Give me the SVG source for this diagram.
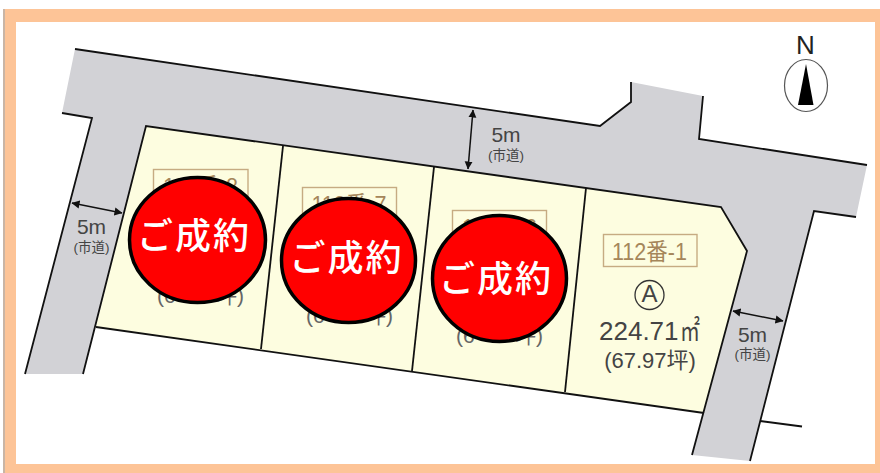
<svg xmlns="http://www.w3.org/2000/svg" width="880" height="473" viewBox="0 0 880 473">
<style>
.edge{fill:none;stroke:#111;stroke-width:1.8;stroke-linejoin:miter}
.dim{fill:none;stroke:#111;stroke-width:1.5;marker-start:url(#head);marker-end:url(#head)}
.box{fill:none;stroke:#c6ab82;stroke-width:1.4}
.lab{font-family:"Liberation Sans","Noto Sans CJK JP",sans-serif;fill:#a5865a;font-size:23.5px}
.dark{font-family:"Liberation Sans","Noto Sans CJK JP",sans-serif;fill:#444}
.frag{font-family:"Liberation Sans","Noto Sans CJK JP",sans-serif;fill:#666;font-size:21px}
.m{font-size:21px;text-anchor:middle}
.sub{font-size:13.500px;text-anchor:middle}
.sold{fill:#f00;stroke:#000;stroke-width:3.5}
.soldt{font-family:"Noto Sans CJK JP",sans-serif;font-weight:500;fill:#fff;font-size:36px;letter-spacing:2px;text-anchor:middle}
</style>
<defs>
<marker id="head" viewBox="0 0 8 8" refX="7.5" refY="4" markerWidth="8" markerHeight="9" markerUnits="userSpaceOnUse" orient="auto-start-reverse"><path d="M0 0L8 4L0 8z" fill="#111"/></marker>
</defs>
<rect width="880" height="473" fill="#fff"/>
<g id="frame">
<rect x="3" y="9" width="877" height="464" fill="#fdc497"/>
<rect x="3" y="9" width="2" height="464" fill="#c9b5a5"/>
<rect x="16" y="22" width="859" height="442" fill="#fff"/>
</g>
<g id="road">
<polygon fill="#d2d2d6" points="75,49 600,126 631,102 631,82 703,96 699,139 867,165 856,217 814,211 750,461 692,455 747,251 721,207 146,126 83,374 25,374 92,118 62,113"/>
<polyline class="edge" points="75,49 600,126 631,102 631,82"/>
<polyline class="edge" points="703,96 699,139 867,165"/>
<polyline class="edge" points="856,217 814,211 750,461"/>
<polyline class="edge" points="62,113 92,118 25,374"/>
<text class="dark m" x="506" y="142">5m</text>
<text class="dark sub" x="506" y="160">(市道)</text>
<text class="dark m" x="91.500" y="234">5m</text>
<text class="dark sub" x="91.500" y="252">(市道)</text>
<text class="dark m" x="752.500" y="342">5m</text>
<text class="dark sub" x="752.500" y="359">(市道)</text>
</g>
<g id="lots">
<polygon fill="#fdfde0" points="146,126 721,207 747,251 704,413 96,327"/>
<polyline class="edge" points="83,374 146,126 721,207 747,251 692,455"/>
<line class="edge" x1="96" y1="327" x2="704" y2="413"/>
<line class="edge" x1="760" y1="421" x2="802" y2="426.500"/>
<line class="edge" x1="283" y1="146" x2="261" y2="349"/>
<line class="edge" x1="434" y1="167" x2="412" y2="371"/>
<line class="edge" x1="586" y1="188" x2="565" y2="392"/>
</g>
<g id="connectors">
<line class="dim" x1="72" y1="203" x2="122" y2="213"/>
<line class="dim" x1="473" y1="110" x2="468" y2="169"/>
<line class="dim" x1="733" y1="311" x2="783" y2="321"/>
</g>
<g id="lot-8">
<rect class="box" x="153.500" y="169.500" width="94.500" height="32"/>
<text class="lab" x="163" y="195" textLength="75" lengthAdjust="spacingAndGlyphs">112番-8</text>
<text class="frag" x="157" y="303">(6</text>
<text class="frag" x="244" y="303" text-anchor="end">坪)</text>
<ellipse class="sold" cx="197.500" cy="240" rx="68" ry="62.500"/>
<text class="soldt" x="194" y="249">ご成約</text>
</g>
<g id="lot-7">
<rect class="box" x="302.500" y="187.500" width="94" height="32"/>
<text class="lab" x="311.500" y="213" textLength="75" lengthAdjust="spacingAndGlyphs">112番-7</text>
<text class="frag" x="306" y="323">(6</text>
<text class="frag" x="393" y="323" text-anchor="end">坪)</text>
<ellipse class="sold" cx="348.500" cy="260.500" rx="67" ry="62"/>
<text class="soldt" x="346.500" y="271">ご成約</text>
</g>
<g id="lot-6">
<rect class="box" x="452.500" y="210.500" width="94" height="32"/>
<text class="lab" x="462" y="236" textLength="75" lengthAdjust="spacingAndGlyphs">112番-6</text>
<text class="frag" x="456" y="343">(6</text>
<text class="frag" x="543" y="343" text-anchor="end">坪)</text>
<ellipse class="sold" cx="499.500" cy="278.500" rx="67" ry="63"/>
<text class="soldt" x="496" y="292">ご成約</text>
</g>
<g id="lot-1">
<rect class="box" x="603.500" y="234.500" width="93.500" height="32"/>
<text class="lab" x="612" y="260" textLength="75" lengthAdjust="spacingAndGlyphs">112番-1</text>
<circle cx="649.500" cy="295" r="14.500" fill="none" stroke="#333" stroke-width="1.300"/>
<text class="dark" font-size="24" text-anchor="middle" x="649.500" y="302">A</text>
<text class="dark" font-size="26" x="599" y="340">224.71</text>
<text class="dark" font-size="28" x="680" y="341" textLength="20" lengthAdjust="spacingAndGlyphs">㎡</text>
<text class="dark" font-size="22" text-anchor="middle" x="650" y="368">(67.97坪)</text>
</g>
<g id="north">
<text font-family="Liberation Sans, sans-serif" font-size="26" fill="#222" text-anchor="middle" x="805.500" y="54">N</text>
<ellipse cx="806" cy="85.500" rx="21.500" ry="26" fill="#fff" stroke="#555" stroke-width="1.200"/>
<polygon points="806,64 798,105 813.500,105" fill="#000"/>
</g>
</svg>
